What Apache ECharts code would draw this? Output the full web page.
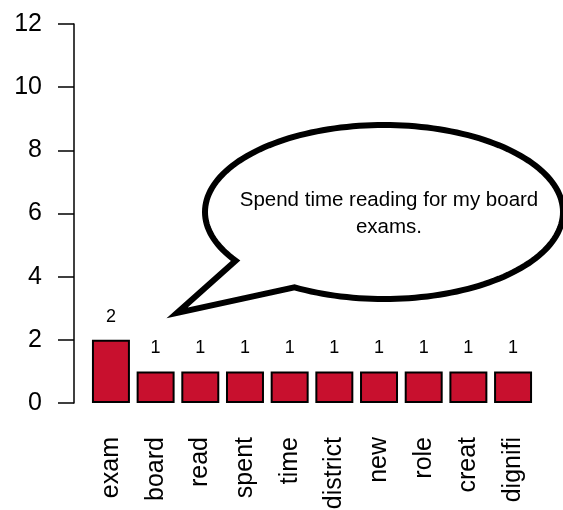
<!DOCTYPE html>
<html>
<head>
<meta charset="utf-8">
<script src="https://cdn.jsdelivr.net/npm/echarts@6/dist/echarts.min.js"></script>
<style>
  html, body { margin: 0; padding: 0; background: #fff; }
  #chart { width: 563px; height: 510px; }
</style>
</head>
<body>
<div id="chart"></div>
<script>
// Word frequencies
const words = ['exam', 'board', 'read', 'spent', 'time', 'district', 'new', 'role', 'creat', 'dignifi'];
const counts = [2, 1, 1, 1, 1, 1, 1, 1, 1, 1];
const yTicks = [0, 2, 4, 6, 8, 10, 12];
const quote = 'Spend time reading for my board\nexams.';

const FONT = '"Liberation Sans", Arial, Helvetica, sans-serif';

// Speech bubble outline: an ellipse with a pointed tail on its lower left
function bubblePoints(cx, cy, rx, ry, tailStartDeg, tailEndDeg, tip) {
  const pts = [];
  const step = 2;
  for (let d = 0; d < 360; d += step) {
    if (d > tailEndDeg && d < tailStartDeg) continue;
    const t = d * Math.PI / 180;
    pts.push([cx + rx * Math.cos(t), cy + ry * Math.sin(t)]);
    if (d === tailEndDeg) pts.push(tip);
  }
  return pts;
}

const bubble = { cx: 384, cy: 212, rx: 179, ry: 87 };
const outline = bubblePoints(bubble.cx, bubble.cy, bubble.rx, bubble.ry, 146, 120, [177, 313]);

const chart = echarts.init(document.getElementById('chart'), null, { renderer: 'canvas' });
chart.setOption({
  animation: false,
  backgroundColor: '#ffffff',
  textStyle: { fontFamily: FONT },
  grid: {
    left: 88.6, right: 27.6, top: 24, bottom: 107,
    containLabel: false,
    outerBoundsMode: 'none'
  },
  xAxis: {
    type: 'category',
    data: words,
    axisLine: { show: false },
    axisTick: { show: false },
    axisLabel: {
      rotate: 90,
      margin: 34,
      interval: 0,
      color: '#000',
      fontSize: 25,
      fontFamily: FONT
    }
  },
  yAxis: {
    type: 'value',
    min: yTicks[0],
    max: yTicks[yTicks.length - 1],
    interval: 2,
    offset: 14.6,
    splitLine: { show: false },
    axisLine: { show: true, lineStyle: { color: '#000', width: 1.5 } },
    axisTick: { show: true, length: 16, lineStyle: { color: '#000', width: 1.5 } },
    axisLabel: {
      margin: 32,
      color: '#000',
      fontSize: 25,
      fontFamily: FONT
    }
  },
  series: [{
    type: 'bar',
    data: counts,
    barCategoryGap: '15%',
    itemStyle: { color: '#C8102E', borderColor: '#000', borderWidth: 2 },
    label: {
      show: true,
      position: 'top',
      distance: 14,
      color: '#000',
      fontSize: 18,
      fontFamily: FONT
    }
  }],
  graphic: [
    {
      type: 'polygon',
      shape: { points: outline },
      style: { fill: '#fff', stroke: '#000', lineWidth: 6, lineJoin: 'miter' },
      z: 10
    },
    {
      type: 'text',
      x: 389,
      y: 214,
      style: {
        text: quote,
        fill: '#000',
        font: '20.5px ' + FONT,
        textAlign: 'center',
        textVerticalAlign: 'middle',
        lineHeight: 27
      },
      z: 11
    }
  ]
});
</script>
</body>
</html>
